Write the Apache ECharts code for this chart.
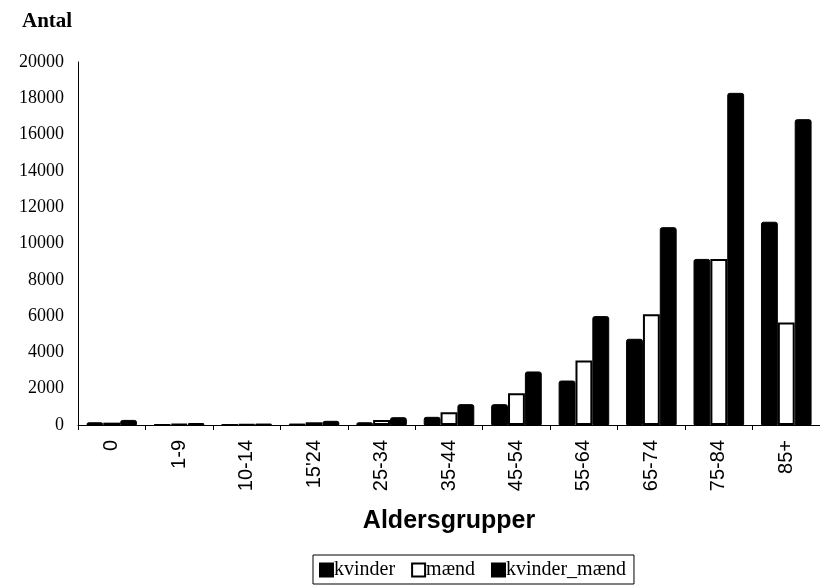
<!DOCTYPE html>
<html>
<head>
<meta charset="utf-8">
<script src="https://cdn.jsdelivr.net/npm/echarts@6/dist/echarts.min.js"></script>
<style>html,body{margin:0;padding:0;background:#fff}#c{width:820px;height:586px}</style>
</head>
<body>
<div id="c"></div>
<script>
var categories = ['0', '1-9', '10-14', "15'24", '25-34', '35-44', '45-54', '55-64', '65-74', '75-84', '85+'];
var kvinder = [150, 50, 40, 80, 150, 450, 1150, 2450, 4750, 9150, 11200];
var maend = [130, 60, 40, 150, 280, 700, 1750, 3550, 6100, 9150, 5650];
var kvinderMaend = [280, 110, 80, 230, 430, 1150, 2950, 6000, 10900, 18300, 16850];
var yTicks = [0, 2000, 20000, 2000]; // min, interval, max

var chart = echarts.init(document.getElementById('c'));
var barBase = { type: 'bar', barGap: '0%', barCategoryGap: '25%' };
chart.setOption({
  animation: false,
  backgroundColor: '#fff',
  title: {
    text: 'Antal', left: 17, top: 6,
    textStyle: { fontFamily: 'Liberation Serif', fontWeight: 'bold', fontSize: 21, color: '#000' }
  },
  grid: { left: 78, right: 0, top: 62, bottom: 161 },
  legend: {
    left: 313, bottom: 2,
    padding: [5, 8, 4, 6],
    borderColor: '#000', borderWidth: 1, borderRadius: 0,
    itemWidth: 13, itemHeight: 13, itemGap: 16,
    icon: 'rect',
    textStyle: { fontFamily: 'Liberation Serif', fontSize: 20, color: '#000', padding: [0, 0, 0, -4] },
    data: ['kvinder', 'mænd', 'kvinder_mænd']
  },
  xAxis: {
    type: 'category', data: categories,
    name: 'Aldersgrupper', nameLocation: 'middle', nameGap: 84,
    nameTextStyle: { fontFamily: 'Liberation Sans', fontWeight: 'bold', fontSize: 25, color: '#000' },
    axisLine: { lineStyle: { color: '#000', width: 1 } },
    axisTick: { show: true, length: 5, lineStyle: { color: '#000' } },
    axisLabel: { rotate: 90, fontFamily: 'Liberation Sans', fontSize: 20, color: '#000', margin: 15 }
  },
  yAxis: {
    type: 'value', min: yTicks[0], interval: yTicks[1], max: yTicks[2],
    axisLine: { show: true, lineStyle: { color: '#000', width: 1 } },
    axisTick: { show: false },
    splitLine: { show: false },
    axisLabel: { fontFamily: 'Liberation Serif', fontSize: 18, color: '#000', margin: 14,
      formatter: function (v) { return String(v); } }
  },
  series: [
    Object.assign({}, barBase, { name: 'kvinder', data: kvinder,
      itemStyle: { color: '#000', borderColor: '#000', borderWidth: 1, borderRadius: [2, 2, 0, 0] } }),
    Object.assign({}, barBase, { name: 'mænd', data: maend,
      itemStyle: { color: '#fff', borderColor: '#000', borderWidth: 2 } }),
    Object.assign({}, barBase, { name: 'kvinder_mænd', data: kvinderMaend,
      itemStyle: { color: '#000', borderColor: '#000', borderWidth: 1, borderRadius: [2, 2, 0, 0] } })
  ]
});
</script>
</body>
</html>
